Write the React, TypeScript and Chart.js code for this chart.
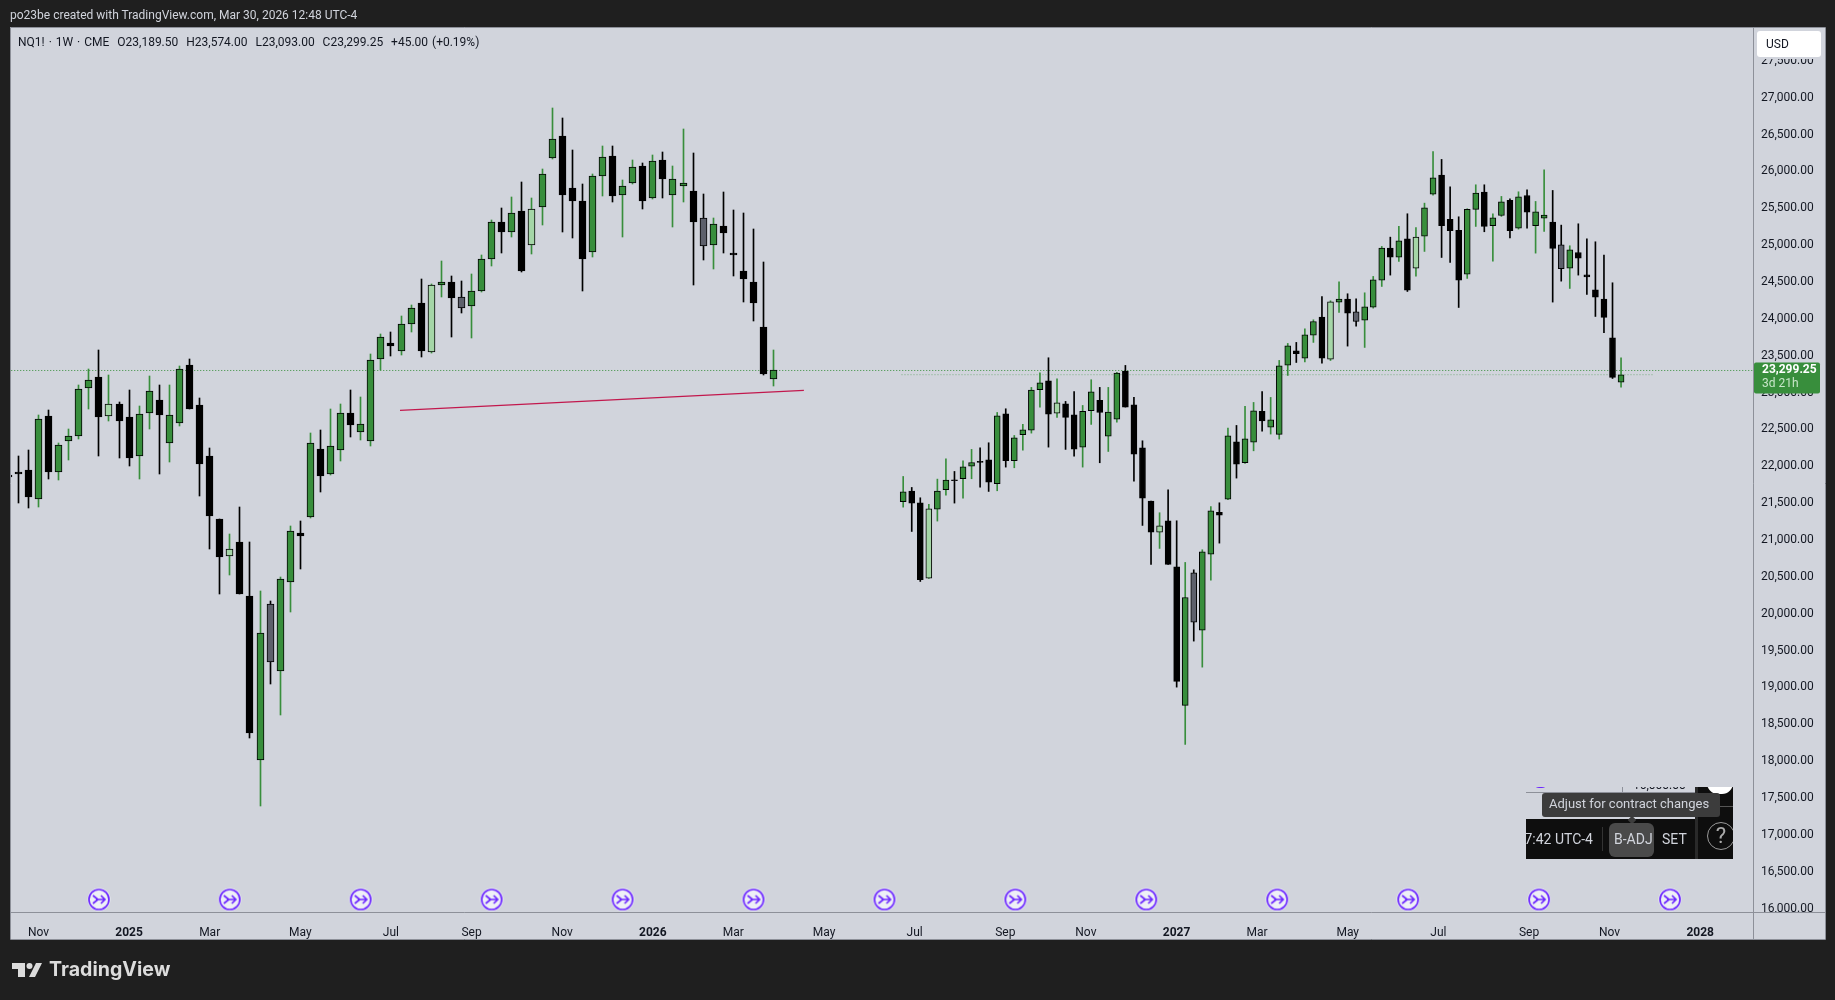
import React, { useEffect, useRef } from 'react';
import { Chart, registerables } from 'chart.js';

Chart.register(...registerables);

// first run of weekly candles
const openA = [21885,21920,21943,21554,22676,21923,22341,22409,23060,23205,22680,22839,22662,22138,22721,22893,22314,22585,23368,22825,22135,21279,20781,20968,20236,18014,20137,19224,20428,21102,21310,22228,21897,22218,22717,22468,22346,23458,23675,23566,23933,24217,23548,24462,24503,24299,24177,24376,24810,25317,25177,25466,25000,25516,26180,26483,25778,25601,24905,25936,26212,25678,25846,26076,25638,26158,25678,25800,25737,25371,25000,25253,24896,24652,24503,23893,23189.5];
const highA = [21900,22133,22215,22689,22757,22319,22500,23096,23322,23571,23232,22870,23028,22812,23218,23096,23096,23354,23449,22933,22244,21279,21087,21450,20968,20303,20179,20500,21196,21253,22447,22486,22780,22848,23028,22934,23526,23797,23815,24032,24181,24543,24475,24778,24584,24507,24602,24860,25344,25497,25656,25859,25642,26036,26863,26727,26293,25823,25959,26338,26338,25877,26149,26108,26216,26257,26067,26569,26243,25687,25362,25715,25470,25430,25213,24765,23574];
const lowA = [21840,21502,21429,21445,21824,21808,22092,22364,22771,22138,22613,22111,22005,21826,22500,21894,22065,22540,22771,21595,20884,20262,20521,20262,18310,17392,19042,18622,20018,20604,21300,21647,21881,22078,22395,22350,22273,23300,23490,23512,23820,23480,23535,24294,23752,24078,23739,24358,24715,24892,25109,24634,24878,25271,26162,25177,25095,24376,24837,25665,25583,25109,25823,25488,25620,25638,25244,25583,24458,24792,24670,24892,24580,24223,23969,23233,23093];
const closeA = [21860,21895,21585,22644,21917,22291,22414,23051,23173,22662,22848,22608,22111,22712,23024,22689,22698,23322,22771,22026,21326,20775,20879,20262,18388,19743,19343,20474,21128,21051,22322,21865,22278,22725,22558,22576,23444,23752,23630,23933,24150,23562,24462,24502,24281,24150,24381,24815,25317,25177,25439,24648,25493,25968,26442,25678,25597,24810,25941,26198,25665,25805,26063,25597,26144,25895,25900,25846,25312,24987,25290,25163,24865,24539,24214,23251,23299.25];
const lightA = [10, 22, 42, 52];
const greyA = [26, 45, 69];

// second run, the pasted copy on the right
const openB = [21519,21663,21505,20483,21419,21682,21817,21831,22003,22066,22088,21763,22712,22075,22428,22491,23038,23160,22721,22848,22699,22260,22753,22893,22409,22640,23291,22834,22251,21528,21107,21261,20637,18757,20556,19778,20809,21374,21555,22333,22048,22328,22744,22532,22432,23372,23567,23467,23779,24023,23453,24227,24267,24096,23983,24159,24525,24959,24837,25086,24688,25122,25691,25949,25348,25199,24606,25484,25719,25262,25402,25606,25230,25673,25262,25366,25312,25004,24688,24900,24597,24394,24267,23743,23142];
const highB = [21862,21713,21573,21483,21826,22102,21930,22075,22229,22251,22319,22730,22780,22418,22568,23070,23268,23472,23187,22880,23015,22825,23174,23070,23070,23273,23368,22934,22346,21528,21370,21682,21261,20696,20596,20868,21455,21505,22518,22554,22812,22866,23015,22934,23436,23666,23680,23865,23987,24303,24245,24502,24340,24272,24353,24575,24982,25108,25253,25425,25239,25569,26270,26162,25791,25384,25493,25818,25818,25425,25660,25628,25723,25750,25592,26022,25741,25271,24991,25289,25086,25045,24864,24489,23472];
const lowB = [21446,21116,20438,20479,21257,21609,21501,21569,21831,21718,21659,21668,21989,21980,22220,22450,22803,22260,22663,22229,22138,21989,22568,22048,22201,22599,22803,21799,21198,20669,20886,20669,19005,18228,19629,19276,20456,20958,21546,21840,22039,22210,22477,22437,22369,23232,23408,23417,23680,23399,23435,24087,23630,23901,23612,24145,24439,24593,24778,24371,24579,24914,25678,24832,24765,24154,24548,25253,25181,24783,25389,25099,25217,25230,24891,25185,24227,24511,24412,24593,24331,24032,23811,23191,23074];
const closeB = [21654,21501,20461,21424,21663,21813,21804,21993,22052,22052,21786,22685,22075,22387,22495,23033,23133,22708,22862,22663,22233,22744,23011,22730,22735,23264,22803,22165,21569,21107,21193,20669,19082,20221,19887,20841,21397,21338,22414,22030,22373,22753,22617,22631,23363,23634,23526,23784,23964,23467,24231,24267,24077,23964,24163,24530,24959,24837,25059,24389,25108,25506,25913,25262,25194,24525,25484,25705,25253,25370,25587,25194,25655,25447,25452,25407,24955,24679,24936,24823,24570,24294,24019,23205,23241];
const lightB = [3, 18, 30, 50, 60];
const greyB = [34, 53, 77];

const priceTicks = [16000,16500,17000,17500,18000,18500,19000,19500,20000,20500,21000,21500,22000,22500,23000,23500,24000,24500,25000,25500,26000,26500,27000,27500];
const monthWeeks = [3,12,20,29,38,46,55,64,72,81,90,99,107,116,124,133,142,151,159,168];
const monthLabels = ['Nov','2025','Mar','May','Jul','Sep','Nov','2026','Mar','May','Jul','Sep','Nov','2027','Mar','May','Jul','Sep','Nov','2028'];
const yearLabels = ['2025', '2026', '2027', '2028'];
const rocketWeeks = [9,22,35,48,61,74,87,100,113,126,139,152,165];
const rocketPrice = 16125;

const lastClose = 23299.25;
const copyClose = 23242;
const redLineWeeks = [38.9, 79];
const redLinePrices = [22758, 23029];

const GREEN = '#388e3c';
const LIGHT = '#a5d6a7';
const GREY = '#5d606b';
const PANEL = '#d1d4dc';
const DARK = '#1f1f1f';
const FRAME = '#8d9099';
const PURPLE = '#6d28ff';
const FONT = 'Roboto, sans-serif';

function bodyColors(open: number[], close: number[], light: number[], grey: number[]) {
  return open.map((o, i) => {
    if (light.includes(i)) return LIGHT;
    if (grey.includes(i)) return GREY;
    return close[i] >= o ? GREEN : '#000000';
  });
}

function wickColors(open: number[], close: number[]) {
  return open.map((o, i) => (close[i] >= o ? GREEN : '#000000'));
}

function candleSets(
  open: number[], high: number[], low: number[], close: number[],
  light: number[], grey: number[], axis: string, width: number, crisp: boolean,
) {
  const wicks: any = {
    type: 'bar',
    xAxisID: axis,
    data: open.map((_, i) => ({ x: i, y: [low[i], high[i]] })),
    backgroundColor: wickColors(open, close),
    borderWidth: 0,
    barThickness: 1,
    grouped: false,
    order: 5,
    crisp,
  };
  const bodies: any = {
    type: 'bar',
    xAxisID: axis,
    data: open.map((o, i) => ({ x: i, y: [o, close[i]] })),
    backgroundColor: bodyColors(open, close, light, grey),
    borderColor: '#000000',
    borderWidth: 1,
    borderSkipped: false,
    barThickness: width,
    grouped: false,
    order: 4,
    crisp,
  };
  return [wicks, bodies];
}

function rocketIcon() {
  const c = document.createElement('canvas');
  c.width = 26;
  c.height = 26;
  const g = c.getContext('2d')!;
  g.beginPath();
  g.arc(13, 13, 11.5, 0, Math.PI * 2);
  g.fillStyle = '#eef0f6';
  g.fill();
  g.beginPath();
  g.arc(13, 13, 10, 0, Math.PI * 2);
  g.strokeStyle = PURPLE;
  g.lineWidth = 1.7;
  g.stroke();
  g.beginPath();
  g.moveTo(7, 9);
  g.lineTo(12, 13);
  g.lineTo(7, 17);
  g.moveTo(10, 13);
  g.lineTo(19, 13);
  g.moveTo(15, 9);
  g.lineTo(19, 13);
  g.lineTo(15, 17);
  g.lineWidth = 1.7;
  g.stroke();
  return c;
}

// snaps the first run to whole pixels, the pasted copy stays soft like the reference
const crispBars = {
  id: 'crispBars',
  afterDatasetsUpdate(chart: any) {
    chart.data.datasets.forEach((ds: any, i: number) => {
      if (!ds.crisp) return;
      chart.getDatasetMeta(i).data.forEach((el: any) => {
        el.x = Math.round(el.x - 0.5) + 0.5;
        el.y = Math.round(el.y);
        el.base = Math.round(el.base);
      });
    });
  },
};

const frame = {
  id: 'frame',
  beforeDraw(chart: any) {
    const { ctx, width, height, chartArea: a } = chart;
    ctx.save();
    ctx.fillStyle = DARK;
    ctx.fillRect(0, 0, width, height);
    ctx.fillStyle = PANEL;
    ctx.fillRect(10, a.top, 1815, 939 - a.top);
    ctx.restore();
  },
  afterDraw(chart: any) {
    const { ctx, chartArea: a, scales } = chart;
    ctx.save();
    // cut the tick labels that sit under the USD box and under the time axis
    ctx.fillStyle = PANEL;
    ctx.fillRect(a.right + 1, a.top, 70, 32);
    ctx.fillRect(a.right + 1, a.bottom + 1, 70, 26);

    ctx.strokeStyle = FRAME;
    ctx.lineWidth = 1;
    ctx.beginPath();
    ctx.moveTo(10.5, a.top + 0.5);
    ctx.lineTo(1825.5, a.top + 0.5);
    ctx.lineTo(1825.5, 939.5);
    ctx.lineTo(10.5, 939.5);
    ctx.closePath();
    ctx.moveTo(10.5, a.bottom + 0.5);
    ctx.lineTo(1825.5, a.bottom + 0.5);
    ctx.moveTo(a.right + 0.5, a.top);
    ctx.lineTo(a.right + 0.5, 939.5);
    ctx.stroke();

    // USD box
    ctx.fillStyle = '#ffffff';
    ctx.beginPath();
    ctx.roundRect(1757, 31, 64, 26, 3);
    ctx.fill();
    ctx.fillStyle = '#131722';
    ctx.font = '12px ' + FONT;
    ctx.textBaseline = 'middle';
    ctx.fillText('USD', 1766, 45);

    // last price label
    const py = scales.y.getPixelForValue(lastClose);
    ctx.fillStyle = GREEN;
    ctx.beginPath();
    ctx.roundRect(a.right + 1, py - 8, 66, 31, 2);
    ctx.fill();
    ctx.fillStyle = '#ffffff';
    ctx.font = 'bold 12px ' + FONT;
    ctx.fillText('23,299.25', 1762, py - 0.5);
    ctx.fillStyle = '#c8e6c9';
    ctx.font = '12px ' + FONT;
    ctx.fillText('3d 21h', 1762, py + 13.5);
    ctx.restore();
  },
};

function Inset() {
  const box = (left: number, top: number, w: number, h: number, extra: any = {}) => ({
    position: 'absolute' as const, left: left - 1526, top: top - 787, width: w, height: h, ...extra,
  });
  const text = { fontFamily: FONT, fontSize: 13, whiteSpace: 'nowrap' as const, color: '#d1d4dc' };
  return (
    <div style={{ position: 'absolute', left: 1526, top: 787, width: 207, height: 72, overflow: 'hidden' }}>
      <div style={box(1695, 787, 38, 72, { background: '#0e0e0e' })} />
      <div style={box(1707, 772, 26, 22, { background: '#fff', borderRadius: 13 })} />
      <div style={box(1695, 806, 38, 1, { background: '#555' })} />
      <div style={box(1526, 792, 169, 1, { background: FRAME })} />
      <div style={box(1622, 787, 1, 5, { background: FRAME })} />
      <div style={box(1533, 776, 15, 12, { border: '1.5px solid ' + PURPLE, borderRadius: 8, boxSizing: 'border-box' })} />
      <div style={box(1633, 787, 54, 5, { overflow: 'hidden' })}>
        <div style={{ ...text, color: '#131722', fontSize: 12, position: 'absolute', top: -9, left: 0 }}>16,000.00</div>
      </div>
      <div style={box(1526, 819, 207, 40, { background: '#0e0e0e' })} />
      <div style={box(1695, 787, 3, 72, { background: '#2a2a2a' })} />
      <div style={box(1542, 793, 178, 24, { background: '#3c3c3c', borderRadius: 3 })} />
      <div style={box(1627, 815, 10, 10, { background: '#3c3c3c', transform: 'rotate(45deg) scale(0.6)' })} />
      <div style={{ ...box(1549, 796, 165, 18), ...text }}>Adjust for contract changes</div>
      <div style={{ ...box(1490, 831, 103, 18), ...text, fontSize: 14, textAlign: 'right' }}>17:42 UTC-4</div>
      <div style={box(1602, 827, 1, 24, { background: '#333' })} />
      <div style={box(1609, 823, 45, 34, { background: '#4a4a4a', borderRadius: 6 })} />
      <div style={{ ...box(1614, 831, 40, 18), ...text, fontSize: 14 }}>B-ADJ</div>
      <div style={{ ...box(1662, 831, 24, 18), ...text, fontSize: 14 }}>SET</div>
      <div style={box(1707, 822, 28, 28, { border: '1px solid #999', borderRadius: 14, boxSizing: 'border-box' })} />
      <div style={{ ...box(1707, 822, 28, 28), ...text, color: '#aaa', fontSize: 22, lineHeight: '28px', textAlign: 'center' }}>?</div>
    </div>
  );
}

const App: React.FC = () => {
  const chartRef = useRef<HTMLCanvasElement>(null);

  useEffect(() => {
    if (!chartRef.current) return;
    const ctx = chartRef.current.getContext('2d');
    if (!ctx) return;

    const chart = new Chart(ctx, {
      type: 'bar',
      data: {
        datasets: [
          ...candleSets(openA, highA, lowA, closeA, lightA, greyA, 'x', 7, true),
          ...candleSets(openB, highB, lowB, closeB, lightB, greyB, 'x2', 6, false),
          {
            type: 'line',
            data: [{ x: 0, y: lastClose }, { x: 174, y: lastClose }],
            borderColor: GREEN,
            borderWidth: 1,
            borderDash: [1, 2],
            pointRadius: 0,
            order: 6,
          },
          {
            type: 'line',
            xAxisID: 'x2',
            data: [{ x: -0.2, y: copyClose }, { x: 87.7, y: copyClose }],
            borderColor: 'rgba(56,142,60,0.55)',
            borderWidth: 1,
            borderDash: [1, 2],
            pointRadius: 0,
            order: 6,
          },
          {
            type: 'line',
            data: redLineWeeks.map((w, i) => ({ x: w, y: redLinePrices[i] })),
            borderColor: '#c2184d',
            borderWidth: 1.2,
            pointRadius: 0,
            order: 3,
          },
          {
            type: 'scatter',
            data: rocketWeeks.map((w) => ({ x: w, y: rocketPrice })),
            pointStyle: rocketIcon(),
            pointRadius: 10,
            order: 2,
          },
        ] as any,
      },
      options: {
        responsive: false,
        animation: false,
        events: [],
        layout: { padding: { left: 10, top: 27, right: 10, bottom: 61 } },
        plugins: { legend: { display: false }, tooltip: { enabled: false } },
        scales: {
          x: {
            type: 'linear',
            min: 0.274,
            max: 173.24,
            offset: false,
            grid: { display: false },
            border: { display: false },
            afterFit: (s: any) => { s.height = 27; },
            afterBuildTicks: (s: any) => { s.ticks = monthWeeks.map((value) => ({ value })); },
            ticks: {
              autoSkip: false,
              maxRotation: 0,
              padding: 6,
              color: '#131722',
              callback: (_v: any, i: number) => monthLabels[i],
              font: (c: any) => ({
                family: FONT,
                size: 12,
                weight: yearLabels.includes(monthLabels[c.index]) ? 'bold' : 'normal',
              }),
            },
          },
          x2: {
            type: 'linear',
            axis: 'x',
            display: false,
            min: -104.4,
            max: 99.44,
            offset: false,
          },
          y: {
            type: 'linear',
            position: 'right',
            min: 15955,
            max: 27958,
            grid: { display: false, drawTicks: false },
            border: { display: false },
            afterFit: (s: any) => { s.width = 72; },
            afterBuildTicks: (s: any) => { s.ticks = priceTicks.map((value) => ({ value })); },
            ticks: {
              autoSkip: false,
              padding: 8,
              color: '#131722',
              font: { family: FONT, size: 12 },
              callback: (v: any) => Number(v).toLocaleString('en-US', { minimumFractionDigits: 2 }),
            },
          },
        } as any,
      },
      plugins: [crispBars, frame] as any,
    });

    return () => chart.destroy();
  }, []);

  return (
    <div style={{ position: 'fixed', left: 0, top: 0, width: 1835, height: 1000, overflow: 'hidden', background: DARK }}>
      <canvas ref={chartRef} width={1835} height={1000} style={{ display: 'block' }} />
      <div style={{ position: 'absolute', left: 10, top: 8, fontFamily: FONT, fontSize: 12, color: '#d1d4dc', whiteSpace: 'nowrap' }}>
        po23be created with TradingView.com, Mar 30, 2026 12:48 UTC-4
      </div>
      <div style={{ position: 'absolute', left: 18, top: 35, fontFamily: FONT, fontSize: 12, wordSpacing: 1, color: '#131722', whiteSpace: 'pre' }}>
        {'NQ1! · 1W · CME  O23,189.50  H23,574.00  L23,093.00  C23,299.25  +45.00 (+0.19%)'}
      </div>
      <Inset />
      <svg style={{ position: 'absolute', left: 0, top: 950 }} width={50} height={40}>
        <path d="M12 13h13v14h-7v-8h-6z M29 27l7-14h6l-7 14z" fill="#dcdcdc" />
        <circle cx={29.5} cy={16} r={3} fill="#dcdcdc" />
      </svg>
      <div style={{ position: 'absolute', left: 49, top: 957, fontFamily: 'Inter, sans-serif', fontWeight: 700, fontSize: 19.6, color: '#dcdcdc', whiteSpace: 'nowrap' }}>
        TradingView
      </div>
    </div>
  );
};

export default App;
